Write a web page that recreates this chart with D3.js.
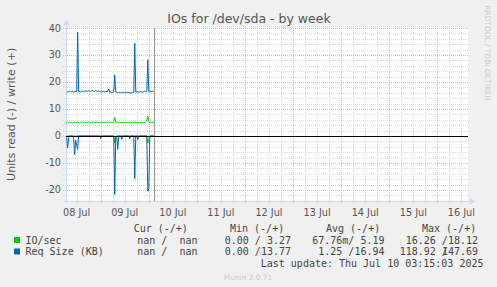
<!DOCTYPE html>
<html>
<head>
<meta charset="utf-8">
<script src="https://cdn.jsdelivr.net/npm/d3@7"></script>
<style>
  html, body { margin: 0; padding: 0; background: #f0f0f0; }
  svg { display: block; }
  text { white-space: pre; }
</style>
</head>
<body>
<svg id="graph"></svg>
<script>
const title = "IOs for /dev/sda - by week";
const yLabel = "Units read (-) / write (+)";
const yTicks = [-20, -10, 0, 10, 20, 30, 40];
const dayLabels = ["08 Jul", "09 Jul", "10 Jul", "11 Jul", "12 Jul", "13 Jul", "14 Jul", "15 Jul", "16 Jul"];
const lastUpdate = "Last update: Thu Jul 10 03:15:03 2025";
const munin = "Munin 2.0.71";
const rrdCredit = "RRDTOOL / TOBI OETIKER";

// 30 minute samples, first one at 08 Jul 07:00
const sampleStart = Date.UTC(2025, 6, 8, 7, 0);
const sampleStepMin = 30;
const nowMark = Date.UTC(2025, 6, 10, 2, 45);

// write (+) values
const writeKB = [
  16.5, 16.3, 16.4, 16.6, 16.3, 16.4, 16.5, 16.2, 16.4, 16.5,
  16.3, 38.4, 16.4, 16.5, 16.3, 16.6, 16.5, 16.4, 16.6, 16.7,
  16.5, 16.6, 16.8, 16.6, 16.5, 16.7, 16.9, 16.6, 16.5, 16.8,
  16.6, 16.4, 16.7, 16.5, 16.3, 16.6, 16.4, 16.5, 16.3, 16.6,
  16.4, 16.5, 17.4, 16.2, 16.3, 16.1, 16.2, 16.4, 22.6, 16.3,
  16.2, 16.0, 16.1, 16.2, 15.9, 16.1, 16.0, 16.2, 16.1, 16.0,
  16.1, 16.2, 16.0, 16.1, 15.9, 16.0, 16.2, 16.1, 34.3, 16.2,
  16.3, 16.4, 16.2, 16.3, 16.5, 16.3, 16.2, 16.4, 16.6, 16.3,
  16.5, 28.3, 16.4, 16.7, 16.5, 16.4, 16.6, 16.5
];
const writeIO = [
  5.1, 5.0, 4.9, 5.2, 5.0, 5.1, 4.8, 5.0, 5.1, 4.9,
  5.0, 5.2, 5.0, 4.9, 5.1, 5.0, 5.2, 5.1, 4.9, 5.0,
  5.1, 5.0, 5.2, 5.0, 4.9, 5.1, 5.0, 5.1, 4.9, 5.0,
  5.2, 5.0, 5.1, 4.9, 5.0, 5.1, 5.0, 4.9, 5.1, 5.0,
  5.1, 5.0, 5.3, 5.0, 4.9, 5.1, 5.0, 5.4, 6.9, 5.2,
  5.0, 4.9, 5.1, 5.0, 4.9, 5.0, 5.1, 4.9, 5.0, 5.1,
  5.0, 4.9, 5.1, 5.0, 4.9, 5.0, 5.1, 5.0, 5.2, 5.0,
  4.9, 5.1, 5.0, 4.9, 5.1, 5.0, 5.1, 4.9, 5.0, 5.3,
  5.6, 7.4, 5.3, 5.0, 5.1, 5.0, 4.9, 5.0
];
// read (-) values, drawn below zero
const readKB = [
  0.5, 4.4, 0.8, 0, 0, 0, 0, 1.0, 6.9, 1.5,
  3.5, 5.0, 0, 0, 0, 0, 0, 0, 0, 0,
  0, 0, 0, 0, 0, 0, 0, 0, 0, 0,
  0, 0, 0, 0, 1.0, 0, 0, 0, 0, 0,
  0, 0, 0, 0, 0, 0, 0, 0, 21.7, 0.5,
  0, 5.0, 0, 0, 0, 1.2, 0, 0, 0, 0,
  0, 0, 0, 1.0, 0, 0, 0, 0, 15.8, 0,
  0, 1.4, 0, 0, 0, 0, 0, 0, 0, 0,
  0, 20.5, 19.5, 0, 0, 0, 0, 0
];
const readIO = [
  0, 0, 0, 0, 0, 0, 0, 0, 0, 0,
  0, 0, 0, 0, 0, 0, 0, 0, 0, 0,
  0, 0, 0, 0, 0, 0, 0, 0, 0, 0,
  0, 0, 0, 0, 0, 0, 0, 0, 0, 0,
  0, 0, 0, 0, 0, 0, 0, 0, 2.6, 0,
  0, 0, 0, 0, 0, 0, 0, 0, 0, 0,
  0, 0, 0, 0, 0, 0, 0, 0, 0, 0,
  0, 0, 0, 0, 0, 0, 0, 0, 0, 0,
  0, 2.6, 1.5, 0, 0, 0, 0, 0
];

const seriesNames = ["IO/sec", "Req Size (KB)"];
const seriesColors = ["#00cc00", "#0066b3"];
const legendHeaders = ["Cur (-/+)", "Min (-/+)", "Avg (-/+)", "Max (-/+)"];
// [read, write] per series
const curVals = [["nan", "nan"], ["nan", "nan"]];
const minVals = [["0.00", "3.27"], ["0.00", "13.77"]];
const avgVals = [["67.76m", "5.19"], ["1.25", "16.94"]];
const maxVals = [["16.26", "18.12"], ["118.92", "147.69"]];

const width = 497;
const height = 287;
const plot = { left: 66, right: 468, top: 28, bottom: 200.7 };

const svg = d3.select("#graph").attr("width", width).attr("height", height);
svg.append("rect").attr("width", width).attr("height", height).attr("fill", "#f0f0f0");

const xScale = d3.scaleUtc()
  .domain([Date.UTC(2025, 6, 8, 6, 41), Date.UTC(2025, 6, 16, 15, 18)])
  .range([plot.left, plot.right]);
const yScale = d3.scaleLinear()
  .domain([-24, 40])
  .range([plot.bottom, plot.top]);

svg.append("rect")
  .attr("x", plot.left).attr("y", plot.top)
  .attr("width", plot.right - plot.left).attr("height", plot.bottom - plot.top)
  .attr("fill", "#ffffff");

// grid
const grid = svg.append("g").attr("shape-rendering", "crispEdges");
const minorX = d3.utcHour.every(6).range(...xScale.domain()).filter(d => d.getUTCHours() !== 0);
const majorX = d3.utcDay.range(...xScale.domain());
const minorY = d3.range(-22, 40, 2).filter(v => v % 10 !== 0);

grid.selectAll(".gx").data(minorX).enter().append("line")
  .attr("x1", d => Math.round(xScale(d)) + 0.5).attr("x2", d => Math.round(xScale(d)) + 0.5)
  .attr("y1", plot.top).attr("y2", plot.bottom + 3)
  .attr("stroke", "#dcdcdc").attr("stroke-dasharray", "1,1");
grid.selectAll(".gy").data(minorY).enter().append("line")
  .attr("y1", d => Math.round(yScale(d)) + 0.5).attr("y2", d => Math.round(yScale(d)) + 0.5)
  .attr("x1", plot.left - 3).attr("x2", plot.right)
  .attr("stroke", "#dcdcdc").attr("stroke-dasharray", "1,1");
grid.selectAll(".mx").data(majorX).enter().append("line")
  .attr("x1", d => Math.round(xScale(d)) + 0.5).attr("x2", d => Math.round(xScale(d)) + 0.5)
  .attr("y1", plot.top).attr("y2", plot.bottom + 3)
  .attr("stroke", "#f3b4b4").attr("stroke-dasharray", "1,1");
grid.selectAll(".my").data(yTicks.concat([40])).enter().append("line")
  .attr("y1", d => Math.round(yScale(d)) + 0.5).attr("y2", d => Math.round(yScale(d)) + 0.5)
  .attr("x1", plot.left - 3).attr("x2", plot.right)
  .attr("stroke", "#f3b4b4").attr("stroke-dasharray", "1,1");

// axes
const axisColor = "#cfd6f8";
svg.append("line").attr("x1", plot.left + 0.5).attr("x2", plot.left + 0.5)
  .attr("y1", plot.bottom + 2).attr("y2", plot.top - 4)
  .attr("stroke", axisColor).attr("shape-rendering", "crispEdges");
svg.append("line").attr("x1", plot.left - 2).attr("x2", plot.right + 3)
  .attr("y1", Math.round(plot.bottom) + 0.5).attr("y2", Math.round(plot.bottom) + 0.5)
  .attr("stroke", axisColor).attr("shape-rendering", "crispEdges");
svg.append("path")
  .attr("d", `M${plot.left - 2.5},${plot.top - 3} L${plot.left + 0.5},${plot.top - 8} L${plot.left + 3.5},${plot.top - 3} Z`)
  .attr("fill", axisColor);
svg.append("path")
  .attr("d", `M${plot.right + 2},${Math.round(plot.bottom) - 2.5} L${plot.right + 7},${Math.round(plot.bottom) + 0.5} L${plot.right + 2},${Math.round(plot.bottom) + 3.5} Z`)
  .attr("fill", axisColor);

// tick labels
const fontColor = "#555555";
svg.append("g").selectAll("text").data(yTicks).enter().append("text")
  .attr("x", 61).attr("y", d => yScale(d) + 3.5)
  .attr("text-anchor", "end")
  .attr("font-family", "DejaVu Sans").attr("font-size", 9.7).attr("fill", fontColor)
  .text(d => d);

const labelTimes = dayLabels.map((t, i) => Date.UTC(2025, 6, 8 + i, 12));
svg.append("g").selectAll("text").data(dayLabels).enter().append("text")
  .attr("x", (d, i) => xScale(labelTimes[i])).attr("y", 216)
  .attr("text-anchor", "middle")
  .attr("font-family", "DejaVu Sans").attr("font-size", 9.7).attr("fill", fontColor)
  .text(d => d);

// title and labels
svg.append("text").attr("x", 249).attr("y", 23)
  .attr("text-anchor", "middle").attr("font-family", "DejaVu Sans").attr("font-size", 12.5)
  .attr("fill", fontColor).text(title);
svg.append("text")
  .attr("transform", `translate(15,${(plot.top + plot.bottom) / 2}) rotate(-90)`)
  .attr("text-anchor", "middle").attr("font-family", "DejaVu Sans").attr("font-size", 11.1)
  .attr("fill", fontColor).text(yLabel);
svg.append("text")
  .attr("transform", "translate(485,53) rotate(90)")
  .attr("text-anchor", "middle").attr("font-family", "DejaVu Sans").attr("font-size", 7.4)
  .attr("fill", "#cccccc").text(rrdCredit);

// data lines
const times = writeKB.map((v, i) => sampleStart + i * sampleStepMin * 60000);
const lineFor = (vals, sign) => d3.line()
  .x((d, i) => xScale(times[i]))
  .y(d => yScale(sign * d))(vals);

const seriesDraw = [
  { vals: readIO, sign: -1, color: seriesColors[0] },
  { vals: writeIO, sign: 1, color: seriesColors[0] },
  { vals: readKB, sign: -1, color: seriesColors[1] },
  { vals: writeKB, sign: 1, color: seriesColors[1] }
];
svg.append("g").selectAll("path").data(seriesDraw).enter().append("path")
  .attr("d", d => lineFor(d.vals, d.sign))
  .attr("fill", "none").attr("stroke", d => d.color).attr("stroke-width", 1);

// now line and zero line
svg.append("line")
  .attr("x1", Math.round(xScale(nowMark)) + 0.5).attr("x2", Math.round(xScale(nowMark)) + 0.5)
  .attr("y1", plot.top).attr("y2", plot.bottom)
  .attr("stroke", "#999999").attr("shape-rendering", "crispEdges");
svg.append("line")
  .attr("x1", plot.left).attr("x2", plot.right)
  .attr("y1", Math.round(yScale(0)) + 0.5).attr("y2", Math.round(yScale(0)) + 0.5)
  .attr("stroke", "#000000").attr("shape-rendering", "crispEdges");

// legend
const mono = "DejaVu Sans Mono";
const cw = 6.02;
const legend = svg.append("g").attr("font-family", mono).attr("font-size", 10).attr("fill", "#444444");
const headerX = [133.7, 230, 326, 422];
const colRight = [197.5, 291, 384.5, 478];
const rowY = [243.5, 255];

legend.selectAll(".hdr").data(legendHeaders).enter().append("text")
  .attr("x", (d, i) => headerX[i]).attr("y", 232).text(d => d);

seriesNames.forEach((name, r) => {
  legend.append("rect").attr("x", 14).attr("y", rowY[r] - 6.5).attr("width", 6).attr("height", 6)
    .attr("fill", seriesColors[r]);
  legend.append("text").attr("x", 25.5).attr("y", rowY[r]).text(name);
  [curVals, minVals, avgVals, maxVals].forEach((col, c) => {
    const rd = col[r][0];
    const wr = col[r][1];
    legend.append("text").attr("x", colRight[c]).attr("y", rowY[r])
      .attr("text-anchor", "end").text(wr);
    legend.append("text").attr("x", colRight[c] - 5 * cw).attr("y", rowY[r])
      .attr("text-anchor", "end").text(rd.endsWith("m") ? rd + "/" : rd + " /");
  });
});
legend.append("text").attr("x", 483.5).attr("y", 267).attr("text-anchor", "end").text(lastUpdate);

svg.append("text").attr("x", 248).attr("y", 279.5).attr("text-anchor", "middle")
  .attr("font-family", "DejaVu Sans").attr("font-size", 7.4).attr("fill", "#cccccc").text(munin);
</script>
</body>
</html>
